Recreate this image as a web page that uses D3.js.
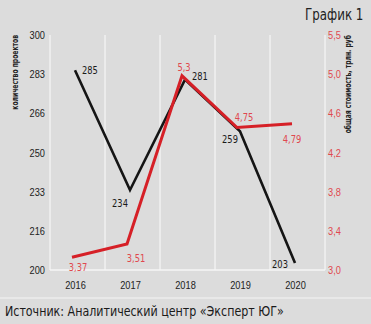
<!DOCTYPE html>
<html>
<head>
<meta charset="utf-8">
<script src="https://cdn.jsdelivr.net/npm/d3@7"></script>
<style>
  body { margin: 0; background: #dcdcdc; }
  svg { display: block; font-family: "Liberation Sans Narrow", "DejaVu Sans Condensed", "DejaVu Sans", sans-serif; font-stretch: condensed; }
</style>
</head>
<body>
<script>
var years = ['2016', '2017', '2018', '2019', '2020']
var projects = [285, 234, 281, 259, 203]
var cost = [3.37, 3.51, 5.3, 4.75, 4.79]
var costLabels = ['3,37', '3,51', '5,3', '4,75', '4,79']
var leftTicks = [200, 216.67, 233.33, 250, 266.67, 283.33, 300]
var leftTickLabels = ['200', '216', '233', '250', '266', '283', '300']
var rightTickLabels = ['3,0', '3,4', '3,8', '4,2', '4,6', '5,0', '5,5']

var W = 371, H = 324
var svg = d3.select('body').append('svg')
  .attr('width', W).attr('height', H)
  .style('background-color', '#dcdcdc')

var plotTop = 35, plotBottom = 270, plotLeft = 50, plotRight = 325

var x = d3.scalePoint().domain(years).range([75, 295])
var band = d3.scaleBand().domain(years).range([plotLeft, plotRight])
var y = d3.scaleLinear().domain([200, 300]).range([plotBottom, plotTop])
// cost marks sit a bit lower than the printed right axis, as in the original
var y2 = d3.scaleLinear().domain([3.0, 5.5]).range([292, 57])
var yRightAxis = d3.scalePoint().domain(rightTickLabels).range([plotBottom, plotTop])

// grid lines
svg.append('g').selectAll('line')
  .data(years.concat(['end']))
  .enter().append('line')
  .attr('x1', function(d, i){ return i < years.length ? band(d) : plotRight })
  .attr('x2', function(d, i){ return i < years.length ? band(d) : plotRight })
  .attr('y1', plotTop).attr('y2', plotBottom)
  .attr('stroke', '#f6f6f6').attr('stroke-width', 1.2)

svg.append('line')
  .attr('x1', plotLeft).attr('x2', plotRight)
  .attr('y1', plotBottom).attr('y2', plotBottom)
  .attr('stroke', '#f6f6f6').attr('stroke-width', 1.5)

// left axis
var la = svg.append('g').attr('transform', 'translate(' + (plotLeft - 5) + ',0)')
  .call(d3.axisLeft(y).tickValues(leftTicks).tickSize(0).tickPadding(0)
    .tickFormat(function(d, i){ return leftTickLabels[i] }))
la.select('.domain').remove()
la.selectAll('text').attr('font-size', 11).attr('fill', '#222').attr('font-family', null)

// right axis
var ra = svg.append('g').attr('transform', 'translate(328,0)')
  .call(d3.axisRight(yRightAxis).tickSize(0).tickPadding(0))
ra.select('.domain').remove()
ra.selectAll('text').attr('font-size', 11).attr('fill', '#e0484e').attr('font-family', null)

// x axis
var xa = svg.append('g').attr('transform', 'translate(0,' + 285 + ')')
  .call(d3.axisBottom(x).tickSize(0).tickPadding(0))
xa.select('.domain').remove()
xa.selectAll('text').attr('font-size', 11).attr('fill', '#222').attr('font-family', null)
  .attr('dy', '0.35em')

// axis titles
svg.append('text')
  .attr('transform', 'translate(18,' + plotTop + ') rotate(-90)')
  .attr('text-anchor', 'end')
  .attr('font-size', 8).attr('font-weight', 'bold').attr('fill', '#222')
  .text('количество проектов')

svg.append('text')
  .attr('transform', 'translate(351,' + plotTop + ') rotate(-90)')
  .attr('text-anchor', 'end')
  .attr('font-size', 8).attr('font-weight', 'bold').attr('fill', '#222')
  .text('общая стоимость, трлн. руб')

// lines
var line1 = d3.line().x(function(d, i){ return x(years[i]) }).y(function(d){ return y(d) })
var line2 = d3.line().x(function(d, i){ return x(years[i]) - 3 }).y(function(d){ return y2(d) })

svg.append('path').datum(projects)
  .attr('d', line1).attr('fill', 'none')
  .attr('stroke', '#151515').attr('stroke-width', 2.6)

svg.append('path').datum(cost)
  .attr('d', line2).attr('fill', 'none')
  .attr('stroke', '#d62027').attr('stroke-width', 3)

// value labels
var blackOff = [[7, 0, 'start'], [-10, 13, 'middle'], [7, -4, 'start'], [-10, 8, 'middle'], [-15, 1, 'middle']]
svg.append('g').selectAll('text')
  .data(projects).enter().append('text')
  .attr('x', function(d, i){ return x(years[i]) + blackOff[i][0] })
  .attr('y', function(d, i){ return y(d) + blackOff[i][1] })
  .attr('dy', '0.35em')
  .attr('text-anchor', function(d, i){ return blackOff[i][2] })
  .attr('font-size', 11).attr('fill', '#1a1a1a')
  .text(function(d){ return d })

var redOff = [[3, 10], [6, 14], [-1, -9], [4, -10], [-3, 15]]
svg.append('g').selectAll('text')
  .data(cost).enter().append('text')
  .attr('x', function(d, i){ return x(years[i]) + redOff[i][0] })
  .attr('y', function(d, i){ return y2(d) + redOff[i][1] })
  .attr('dy', '0.35em')
  .attr('text-anchor', 'middle')
  .attr('font-size', 11).attr('fill', '#e0484e')
  .text(function(d, i){ return costLabels[i] })

// title
svg.append('text').attr('class', 'wide')
  .attr('x', 305).attr('y', 20)
  .attr('font-size', 15).attr('fill', '#222')
  .text('График 1')

// separator + source
svg.append('line')
  .attr('x1', 0).attr('x2', W).attr('y1', 298).attr('y2', 298)
  .attr('stroke', '#f4f4f4').attr('stroke-width', 1.2)

svg.append('text').attr('class', 'wide')
  .attr('x', 5).attr('y', 316)
  .attr('font-size', 14).attr('fill', '#1a1a1a')
  .text('Источник: Аналитический центр «Эксперт ЮГ»')

// the original uses a narrow typeface, so squeeze every text a little
svg.selectAll('text').each(function(){
  var len = this.getComputedTextLength()
  var k = this.getAttribute('class') === 'wide' ? 0.88 : 0.84
  d3.select(this).attr('textLength', len * k).attr('lengthAdjust', 'spacingAndGlyphs')
})
</script>
</body>
</html>
